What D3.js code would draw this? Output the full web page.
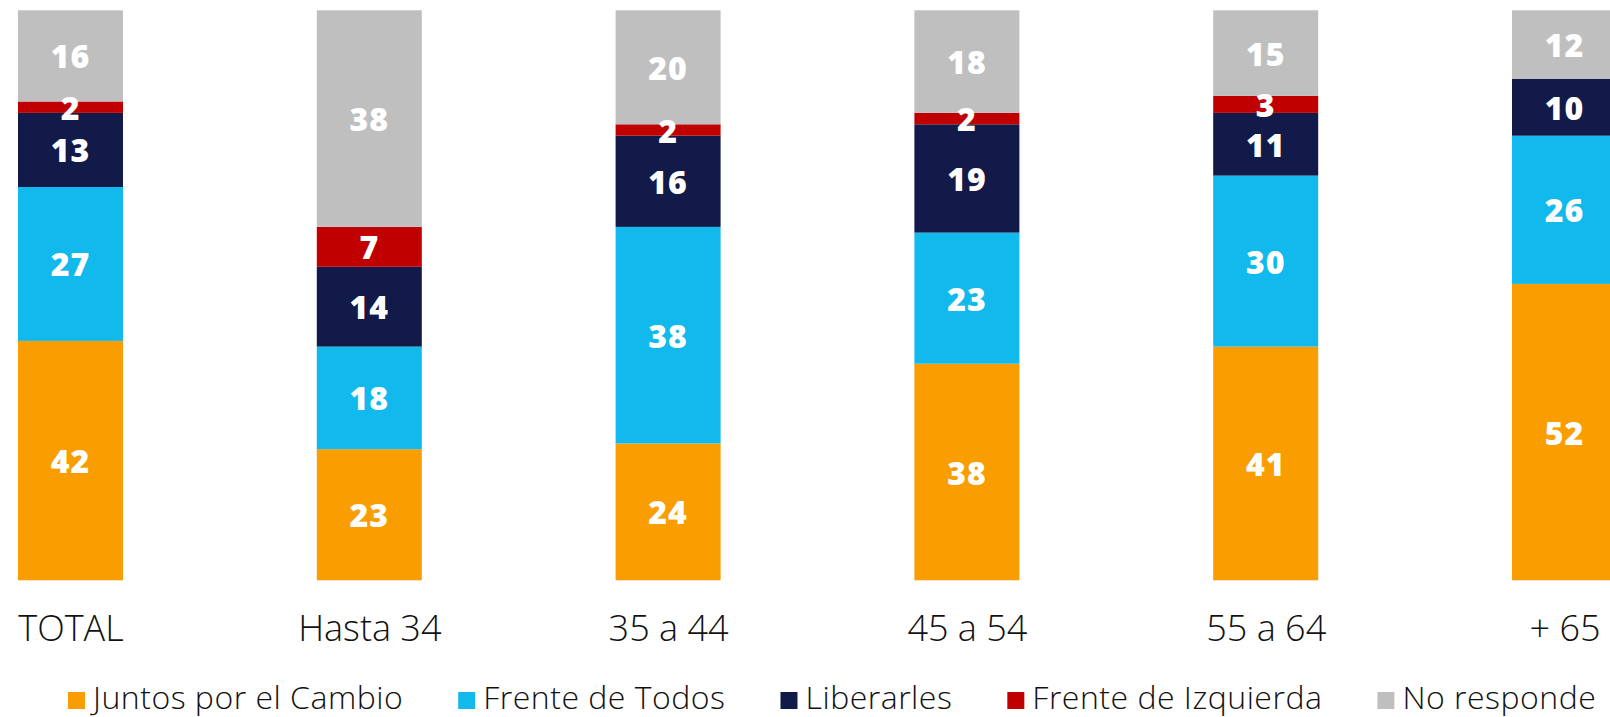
<!DOCTYPE html>
<html>
<head>
<meta charset="utf-8">
<script src="https://cdn.jsdelivr.net/npm/d3@7"></script>
<style>
  html, body { margin: 0; padding: 0; background: #fff; overflow: hidden; }
  svg { display: block; }
</style>
</head>
<body>
<svg id="chart" width="1610" height="717"></svg>
<script>
// ---- data ----
const categories = ["TOTAL", "Hasta 34", "35 a 44", "45 a 54", "55 a 64", "+ 65"];
const seriesNames = ["Juntos por el Cambio", "Frente de Todos", "Liberarles", "Frente de Izquierda", "No responde"];
const juntos     = [42, 23, 24, 38, 41, 52];
const frente     = [27, 18, 38, 23, 30, 26];
const liberarles = [13, 14, 16, 19, 11, 10];
const izquierda  = [2, 7, 2, 2, 3, 0];
const noResponde = [16, 38, 20, 18, 15, 12];
const colors = ["#F99D00", "#12B9EC", "#111A48", "#C00000", "#BFBFBF"];

const seriesValues = [juntos, frente, liberarles, izquierda, noResponde];
const table = categories.map((c, i) => {
  const row = { cat: c };
  seriesNames.forEach((s, k) => row[s] = seriesValues[k][i]);
  return row;
});

const svg = d3.select("#chart");

const x = d3.scalePoint().domain(categories).range([70.5, 1564.5]);
const barW = 105;
const y = d3.scaleLinear().domain([0, 100]).range([580.3, 10.3]);

const stacked = d3.stack().keys(seriesNames)(table);

const layers = svg.append("g").selectAll("g")
  .data(stacked).join("g")
  .attr("fill", (d, i) => colors[i]);

layers.selectAll("rect")
  .data(d => d).join("rect")
  .attr("x", d => x(d.data.cat) - barW / 2)
  .attr("width", barW)
  .attr("y", d => y(d[1]))
  .attr("height", d => y(d[0]) - y(d[1]));

// value labels
const labelFont = "'Open Sans', 'Lato', sans-serif";
svg.append("g").selectAll("g")
  .data(stacked).join("g")
  .selectAll("text")
  .data(d => d.filter(v => v[1] - v[0] > 0)).join("text")
  .attr("x", d => x(d.data.cat))
  .attr("y", d => (y(d[0]) + y(d[1])) / 2)
  .attr("text-anchor", "middle")
  .attr("dominant-baseline", "central")
  .attr("fill", "#fff")
  .attr("font-family", labelFont)
  .attr("font-weight", 800)
  .attr("font-size", 32)
  .attr("letter-spacing", 1)
  .text(d => d[1] - d[0]);

// x axis labels
const xAxis = d3.axisBottom(x).tickSize(0).tickPadding(0);
const axG = svg.append("g").attr("transform", "translate(0,641)").call(xAxis);
axG.select(".domain").remove();
axG.selectAll("text")
  .attr("y", 0)
  .attr("dy", 0)
  .attr("fill", "#111")
  .attr("font-family", labelFont)
  .attr("font-weight", 300)
  .attr("font-size", 36);

// legend (flow layout)
const legG = svg.append("g").attr("transform", "translate(68,0)");
let cx = 0;
seriesNames.forEach((s, i) => {
  const g = legG.append("g").attr("transform", `translate(${cx},0)`);
  g.append("rect").attr("x", 0).attr("y", 692).attr("width", 17).attr("height", 17).attr("fill", colors[i]);
  const t = g.append("text").attr("x", 25).attr("y", 709)
    .attr("fill", "#111")
    .attr("font-family", labelFont)
    .attr("font-weight", 300)
    .attr("font-size", 32)
    .attr("letter-spacing", 0.5)
    .text(s);
  const w = t.node().getComputedTextLength();
  cx += 25 + w + 55;
});
</script>
</body>
</html>
